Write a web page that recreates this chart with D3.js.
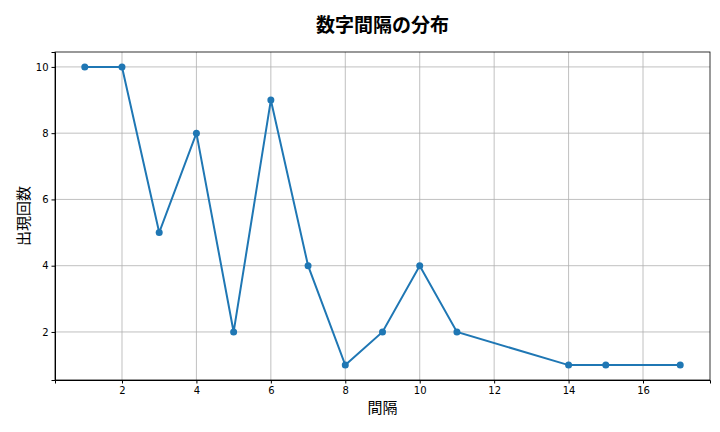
<html>
<head>
<style>
  body { margin: 0; background: #fff; }
  .grid line { stroke: #b0b0b0; stroke-width: 0.8; }
  .axis text { font-family: "DejaVu Sans", sans-serif; font-size: 10px; fill: #000; }
  .axis path, .axis line { stroke: #000; }
</style>
</head>
<body>
<div id="target"></div>
<script src="https://cdnjs.cloudflare.com/ajax/libs/d3/7.8.5/d3.min.js"></script>
<script>
var intervals = [1, 2, 3, 4, 5, 6, 7, 8, 9, 10, 11, 14, 15, 17];
var counts = [10, 10, 5, 8, 2, 9, 4, 1, 2, 4, 2, 1, 1, 1];
var xTicks = [2, 4, 6, 8, 10, 12, 14, 16];
var yTicks = [2, 4, 6, 8, 10];

var W = 720, H = 432;
var mLeft = 55, mRight = 710, mTop = 52, mBottom = 380;

var svg = d3.select('#target').append('svg').attr('width', W).attr('height', H);

var x = d3.scaleLinear().domain([0.2, 17.8]).range([mLeft, mRight]);
var y = d3.scaleLinear().domain([0.55, 10.45]).range([mBottom, mTop]);

//grid
var grid = svg.append('g').attr('class', 'grid');
grid.selectAll('line.v').data(xTicks).enter().append('line')
    .attr('x1', x).attr('x2', x).attr('y1', mTop).attr('y2', mBottom);
grid.selectAll('line.h').data(yTicks).enter().append('line')
    .attr('y1', y).attr('y2', y).attr('x1', mLeft).attr('x2', mRight);

svg.append('g').attr('class', 'axis').attr('transform', 'translate(0,' + mBottom + ')')
    .call(d3.axisBottom(x).tickValues(xTicks).tickSize(3.5).tickPadding(3));
svg.append('g').attr('class', 'axis').attr('transform', 'translate(' + mLeft + ',0)')
    .call(d3.axisLeft(y).tickValues(yTicks).tickSize(3.5).tickPadding(3));

svg.append('rect').attr('x', mLeft).attr('y', mTop).attr('width', mRight - mLeft).attr('height', mBottom - mTop)
    .attr('fill', 'none').attr('stroke', '#000').attr('stroke-width', 0.8);

var pts = intervals.map(function (d, i) { return [d, counts[i]]; });
svg.append('path').datum(pts)
    .attr('d', d3.line().x(function (d) { return x(d[0]); }).y(function (d) { return y(d[1]); }))
    .attr('fill', 'none').attr('stroke', '#1f77b4').attr('stroke-width', 2);
svg.selectAll('circle.pt').data(pts).enter().append('circle')
    .attr('cx', function (d) { return x(d[0]); }).attr('cy', function (d) { return y(d[1]); })
    .attr('r', 3.5).attr('fill', '#1f77b4');

var jp = '"Noto Sans CJK JP", sans-serif';
svg.append('text').attr('x', (mLeft + mRight) / 2).attr('y', 32).attr('text-anchor', 'middle')
    .attr('font-family', jp).attr('font-size', 19).attr('font-weight', 'bold').text('数字間隔の分布');
svg.append('text').attr('x', (mLeft + mRight) / 2).attr('y', 413).attr('text-anchor', 'middle')
    .attr('font-family', jp).attr('font-size', 15).text('間隔');
svg.append('text').attr('transform', 'translate(29,' + ((mTop + mBottom) / 2) + ') rotate(-90)')
    .attr('text-anchor', 'middle').attr('font-family', jp).attr('font-size', 15).text('出現回数');
</script>
</body>
</html>
